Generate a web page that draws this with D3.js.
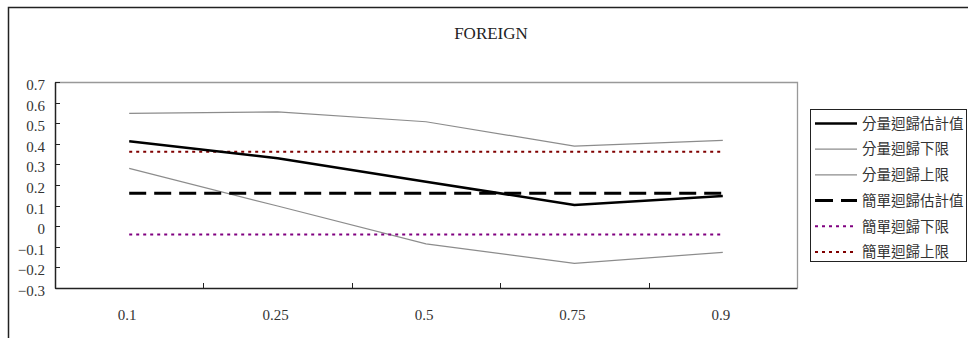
<!DOCTYPE html>
<html>
<head>
<meta charset="utf-8">
<script src="https://cdn.jsdelivr.net/npm/d3@7"></script>
<style>
  html, body { margin: 0; padding: 0; background: #fff; }
  svg { display: block; }
</style>
</head>
<body>
<svg id="chart" width="968" height="338"></svg>
<script>
// Quantile regression vs. OLS coefficients for FOREIGN
const quantiles = ["0.1", "0.25", "0.5", "0.75", "0.9"];
const qrEstimate = [0.412, 0.33, 0.216, 0.103, 0.147];
const qrLower    = [0.281, 0.098, -0.086, -0.18, -0.127];
const qrUpper    = [0.548, 0.555, 0.507, 0.389, 0.417];
const olsEstimate = [0.16, 0.16, 0.16, 0.16, 0.16];
const olsLower    = [-0.04, -0.04, -0.04, -0.04, -0.04];
const olsUpper    = [0.362, 0.362, 0.362, 0.362, 0.362];
const yTicks = [0.7, 0.6, 0.5, 0.4, 0.3, 0.2, 0.1, 0, -0.1, -0.2, -0.3];
const seriesNames = ["分量迴歸估計值", "分量迴歸下限", "分量迴歸上限", "簡單迴歸估計值", "簡單迴歸下限", "簡單迴歸上限"];
const title = "FOREIGN";

const series = [
  { name: seriesNames[0], values: qrEstimate, color: "#000", width: 2.5, dash: null, keyDash: null },
  { name: seriesNames[1], values: qrLower, color: "#8c8c8c", width: 1.2, dash: null, keyDash: null },
  { name: seriesNames[2], values: qrUpper, color: "#8c8c8c", width: 1.2, dash: null, keyDash: null },
  { name: seriesNames[3], values: olsEstimate, color: "#000", width: 3, dash: "17,8", keyDash: "18,8" },
  { name: seriesNames[4], values: olsLower, color: "#800080", width: 2, dash: "3,4", keyDash: "3,4" },
  { name: seriesNames[5], values: olsUpper, color: "#800000", width: 2, dash: "3,4", keyDash: "3,4" }
];

const svg = d3.select("#chart");
const serif = "'Liberation Serif', 'Times New Roman', serif";
const cjk = "'Noto Sans CJK TC', 'Noto Sans CJK SC', sans-serif";

// outer frame (extends past right and bottom edges)
svg.append("rect")
  .attr("x", 8.5).attr("y", 7.5)
  .attr("width", 1000).attr("height", 400)
  .attr("fill", "none").attr("stroke", "#222").attr("stroke-width", 1.5);

const plot = { left: 55, right: 797, top: 82, bottom: 288 };

const x = d3.scaleBand().domain(quantiles).range([plot.left, plot.right]).padding(0);
const y = d3.scaleLinear().domain([-0.3, 0.7]).range([plot.bottom, plot.top]);

// plot frame: gray top/right
svg.append("path")
  .attr("d", `M${plot.left},${plot.top + 0.5}H${plot.right + 0.5}V${plot.bottom}`)
  .attr("fill", "none").attr("stroke", "#999").attr("stroke-width", 1.3);

// y axis
const yAxis = d3.axisLeft(y).tickValues(yTicks).tickSize(0).tickPadding(10)
  .tickFormat(d => d === 0 ? "0" : d3.format(".1f")(d));
const gy = svg.append("g").attr("transform", `translate(${plot.left},0)`).call(yAxis);
gy.attr("font-size", null).attr("font-family", null);
gy.select(".domain").attr("stroke", "#222").attr("stroke-width", 1.5);
gy.selectAll(".tick text")
  .attr("font-family", serif).attr("font-size", 15).attr("fill", "#333")
  .attr("dy", "0.5em");
// inward y ticks
svg.append("g").selectAll("line").data(yTicks).join("line")
  .attr("x1", plot.left).attr("x2", plot.left + 5)
  .attr("y1", d => Math.round(y(d)) + 0.5).attr("y2", d => Math.round(y(d)) + 0.5)
  .attr("stroke", "#222").attr("stroke-width", 1);

// x axis
const xAxis = d3.axisBottom(x).tickSize(0).tickPadding(21);
const gx = svg.append("g").attr("transform", `translate(0,${plot.bottom})`).call(xAxis);
gx.attr("font-size", null).attr("font-family", null);
gx.select(".domain").attr("stroke", "#222").attr("stroke-width", 1.5);
gx.selectAll(".tick text")
  .attr("font-family", serif).attr("font-size", 15).attr("fill", "#333")
  .attr("dx", -2);
// inward x ticks at category boundaries
svg.append("g").selectAll("line").data(quantiles.slice(1)).join("line")
  .attr("x1", d => Math.round(x(d)) + 0.5).attr("x2", d => Math.round(x(d)) + 0.5)
  .attr("y1", plot.bottom).attr("y2", plot.bottom - 5)
  .attr("stroke", "#222").attr("stroke-width", 1);

// series lines
const line = d3.line()
  .x((d, i) => x(quantiles[i]) + x.bandwidth() / 2)
  .y(d => y(d));

const drawOrder = [1, 2, 5, 4, 3, 0];
drawOrder.forEach(i => {
  const s = series[i];
  svg.append("path")
    .datum(s.values)
    .attr("d", line)
    .attr("fill", "none")
    .attr("stroke", s.color)
    .attr("stroke-width", s.width)
    .attr("stroke-dasharray", s.dash)
    .attr("stroke-linejoin", "miter");
});

// title
svg.append("text")
  .attr("x", 491).attr("y", 39)
  .attr("text-anchor", "middle")
  .attr("font-family", serif).attr("font-size", 17).attr("fill", "#222")
  .text(title);

// legend
const legend = svg.append("g");
legend.append("rect")
  .attr("x", 810.5).attr("y", 109.5).attr("width", 156).attr("height", 152)
  .attr("fill", "#fff").attr("stroke", "#222").attr("stroke-width", 1);

const ly = d3.scaleLinear().domain([0, 5]).range([123.5, 252]);
series.forEach((s, i) => {
  const g = legend.append("g").attr("transform", `translate(0,${ly(i)})`);
  g.append("line")
    .attr("x1", 815).attr("x2", 857).attr("y1", 0).attr("y2", 0)
    .attr("stroke", s.color).attr("stroke-width", s.width)
    .attr("stroke-dasharray", s.keyDash);
  g.append("text")
    .attr("x", 862).attr("y", 0).attr("dy", "0.36em")
    .attr("font-family", cjk).attr("font-size", 14.5).attr("fill", "#333")
    .text(s.name);
});
</script>
</body>
</html>
